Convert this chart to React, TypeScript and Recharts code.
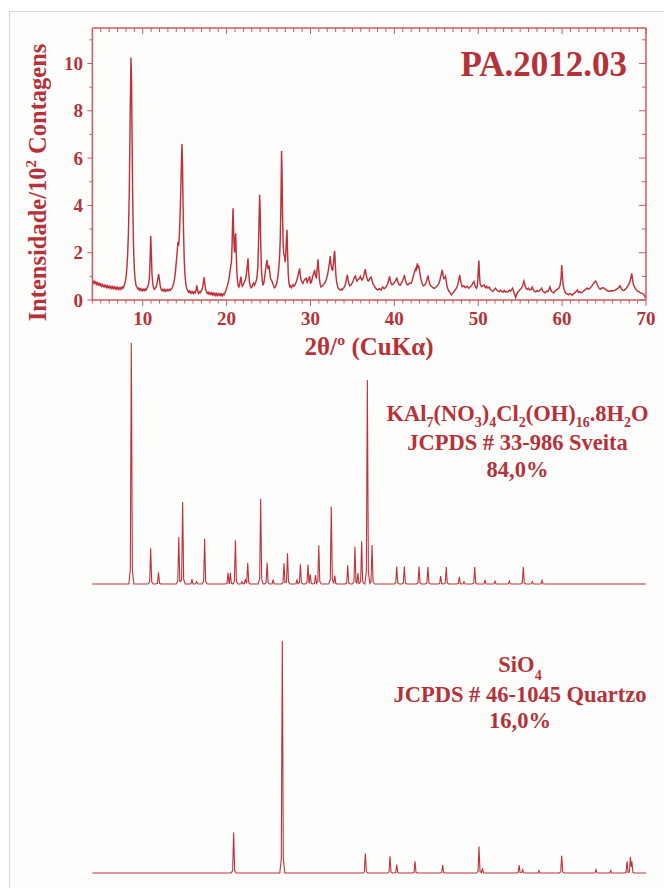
import React from 'react';
import { LineChart, Line, XAxis, YAxis } from 'recharts';

const TEXT = '#b5323a';
const LINE = '#bd323c';
const AXIS = '#cc5a63';
const FONT = "'Liberation Serif', 'Times New Roman', serif";

const xMajorTicks = [10, 20, 30, 40, 50, 60, 70];
const xAllTicks = Array.from({ length: 67 }, (_, i) => 4 + i);
const yMajorTicks = [0, 2, 4, 6, 8, 10];
const yAllTicks = [0, 1, 2, 3, 4, 5, 6, 7, 8, 9, 10, 11];

// measured pattern, 2θ vs intensity/10^2 counts
const scanA: number[][] = [[4.0,0.84],[4.1,0.72],[4.2,0.79],[4.3,0.7],[4.4,0.76],[4.5,0.66],[4.6,0.73],[4.7,0.64],[4.8,0.7],[4.9,0.62],[5.0,0.68],[5.1,0.58],[5.2,0.65],[5.3,0.57],[5.4,0.63],[5.5,0.55],[5.6,0.61],[5.7,0.53],[5.8,0.6],[5.9,0.52],[6.0,0.58],[6.1,0.5],[6.2,0.57],[6.3,0.49],[6.4,0.56],[6.5,0.48],[6.6,0.55],[6.7,0.47],[6.8,0.54],[6.9,0.46],[7.0,0.53],[7.1,0.46],[7.2,0.52],[7.3,0.45],[7.4,0.53],[7.5,0.47],[7.6,0.55],[7.7,0.52],[7.8,0.62],[7.9,0.74],[8.0,0.95],[8.1,1.3],[8.2,1.9],[8.3,2.9],[8.4,4.6],[8.5,7.8],[8.6,10.25],[8.67,9.2],[8.74,6.4],[8.82,3.9],[8.9,2.3],[9.0,1.3],[9.1,0.85],[9.2,0.62],[9.3,0.55],[9.4,0.47]];
const scanB: number[][] = [[9.5,0.5],[9.6,0.42],[9.7,0.48],[9.8,0.4],[9.9,0.46],[10.0,0.39],[10.1,0.45],[10.2,0.4],[10.3,0.47],[10.4,0.42],[10.5,0.5],[10.6,0.55],[10.7,0.68],[10.8,0.95],[10.88,1.7],[10.95,2.72],[11.02,2.1],[11.1,1.1],[11.2,0.68],[11.3,0.52],[11.4,0.45],[11.5,0.5],[11.6,0.55],[11.7,0.7],[11.8,0.88],[11.9,1.1],[12.0,0.82],[12.1,0.58],[12.2,0.45],[12.3,0.4],[12.4,0.45],[12.5,0.38],[12.6,0.44],[12.7,0.37],[12.8,0.43],[12.9,0.38],[13.0,0.44],[13.1,0.39],[13.2,0.45],[13.3,0.41],[13.4,0.48],[13.5,0.5],[13.6,0.6],[13.7,0.72],[13.8,0.9],[13.9,1.2],[14.0,1.6],[14.1,2.0],[14.2,2.45],[14.28,2.3],[14.36,2.7],[14.45,3.5],[14.55,4.8],[14.62,5.9],[14.68,6.6],[14.74,5.8],[14.8,4.2],[14.87,2.8],[14.95,1.7],[15.05,1.0],[15.15,0.65],[15.25,0.48],[15.35,0.4],[15.45,0.33],[15.55,0.38],[15.65,0.3],[15.75,0.36],[15.85,0.29],[15.95,0.35],[16.05,0.28],[16.15,0.34],[16.25,0.3],[16.35,0.4],[16.45,0.62],[16.55,0.4],[16.65,0.28],[16.75,0.34],[16.85,0.3],[16.95,0.38],[17.05,0.42],[17.15,0.55],[17.25,0.8],[17.32,0.96],[17.4,0.7],[17.5,0.45],[17.6,0.34],[17.7,0.28],[17.8,0.33],[17.9,0.25],[18.0,0.31],[18.1,0.24],[18.2,0.3],[18.3,0.22],[18.4,0.29],[18.5,0.21],[18.6,0.28],[18.7,0.2],[18.8,0.27],[18.9,0.19],[19.0,0.26],[19.1,0.2],[19.2,0.27],[19.3,0.19],[19.4,0.25],[19.5,0.18],[19.6,0.26],[19.7,0.22],[19.8,0.3],[19.9,0.38]];
const scanC: number[][] = [[20.0,0.5],[20.1,0.62],[20.2,0.75],[20.3,0.95],[20.4,1.2],[20.5,1.45],[20.58,1.6],[20.65,2.3],[20.71,3.2],[20.77,3.88],[20.83,3.0],[20.89,2.3],[20.95,2.0],[21.02,2.5],[21.08,2.82],[21.15,2.0],[21.22,1.2],[21.3,0.8],[21.38,0.6],[21.46,0.55],[21.55,0.65],[21.63,0.85],[21.71,0.99],[21.79,0.7],[21.87,0.58],[21.95,0.62],[22.05,0.7],[22.15,0.78],[22.25,0.88],[22.35,1.05],[22.45,1.4],[22.55,1.76],[22.63,1.2],[22.72,0.75],[22.82,0.6],[22.92,0.52],[23.02,0.55],[23.12,0.65],[23.22,0.72],[23.32,0.62],[23.42,0.7],[23.52,0.8],[23.62,0.95],[23.72,1.4],[23.8,2.3],[23.87,3.4],[23.94,4.45],[24.0,3.8],[24.07,2.4],[24.15,1.3],[24.25,0.8],[24.35,0.62],[24.45,0.75],[24.55,1.0],[24.65,1.3],[24.75,1.55],[24.82,1.7],[24.9,1.4],[24.98,1.3],[25.06,1.45],[25.14,1.2],[25.22,0.95],[25.3,0.85],[25.4,0.8],[25.5,0.7],[25.6,0.6],[25.7,0.52],[25.8,0.55],[25.9,0.62],[26.0,0.75],[26.1,0.95],[26.2,1.25],[26.3,1.7],[26.4,2.6],[26.48,4.2],[26.55,6.3],[26.61,5.4],[26.67,3.6],[26.74,2.4],[26.82,1.95],[26.9,1.85],[26.98,1.6],[27.05,1.9],[27.12,2.5],[27.2,2.97],[27.27,2.0],[27.35,1.1],[27.44,0.7],[27.52,0.56],[27.62,0.6],[27.72,0.52],[27.82,0.6],[27.92,0.65],[28.02,0.58],[28.12,0.62],[28.22,0.7],[28.32,0.78],[28.42,0.9],[28.52,1.05],[28.62,1.2],[28.71,1.34],[28.8,1.0],[28.9,0.82],[29.0,0.75],[29.1,0.7],[29.2,0.8],[29.3,0.86],[29.4,0.9],[29.5,0.92],[29.6,0.75],[29.7,0.82],[29.8,0.9],[29.9,1.0],[30.0,0.72]];
const scanD: number[][] = [[30.1,0.75],[30.2,0.9],[30.3,1.05],[30.4,1.15],[30.5,1.27],[30.6,1.0],[30.7,0.95],[30.8,1.3],[30.9,1.72],[30.98,1.3],[31.06,0.9],[31.15,0.68],[31.25,0.55],[31.35,0.58],[31.45,0.6],[31.55,0.65],[31.65,0.7],[31.75,0.75],[31.85,0.82],[31.95,0.95],[32.05,1.1],[32.15,1.3],[32.25,1.55],[32.36,1.86],[32.45,1.5],[32.55,1.3],[32.65,1.27],[32.75,1.6],[32.82,1.95],[32.88,2.08],[32.95,1.6],[33.02,1.1],[33.1,0.8],[33.2,0.62],[33.3,0.5],[33.4,0.46],[33.5,0.44],[33.6,0.42],[33.7,0.46],[33.8,0.43],[33.9,0.5],[34.0,0.52],[34.1,0.6],[34.2,0.72],[34.3,0.9],[34.39,1.06],[34.48,0.85],[34.58,0.7],[34.68,0.6],[34.78,0.62],[34.88,0.66],[34.98,0.72],[35.08,0.8],[35.18,0.9],[35.28,0.98],[35.36,1.02],[35.45,0.88],[35.55,0.8],[35.65,0.86],[35.75,0.88],[35.85,0.92],[35.95,1.0],[36.05,0.9],[36.15,0.84],[36.25,0.9],[36.35,1.0],[36.45,1.2],[36.54,1.3],[36.62,1.1],[36.72,0.95],[36.82,0.82],[36.92,0.8],[37.02,0.88],[37.12,0.92],[37.22,0.96],[37.32,0.85],[37.42,0.72],[37.52,0.64],[37.62,0.58],[37.72,0.52],[37.82,0.48],[37.92,0.45],[38.02,0.42],[38.12,0.46],[38.22,0.48],[38.32,0.44],[38.42,0.42],[38.52,0.5],[38.62,0.55],[38.72,0.5],[38.82,0.48],[38.92,0.52],[39.02,0.56],[39.12,0.62],[39.22,0.7],[39.32,0.85],[39.42,1.0],[39.52,0.82],[39.62,0.7],[39.72,0.64],[39.82,0.66],[39.92,0.7]];
const scanE: number[][] = [[40.02,0.75],[40.12,0.8],[40.22,0.88],[40.31,0.92],[40.4,0.78],[40.5,0.7],[40.6,0.64],[40.7,0.62],[40.8,0.7],[40.9,0.76],[41.0,0.82],[41.1,0.92],[41.2,1.06],[41.3,0.88],[41.4,0.74],[41.5,0.65],[41.6,0.64],[41.7,0.68],[41.8,0.7],[41.9,0.72],[42.0,0.7],[42.1,0.8],[42.2,0.92],[42.3,1.05],[42.4,1.2],[42.5,1.3],[42.58,1.22],[42.66,1.4],[42.74,1.55],[42.82,1.38],[42.9,1.42],[42.98,1.3],[43.06,1.1],[43.16,0.9],[43.26,0.75],[43.36,0.65],[43.46,0.6],[43.56,0.62],[43.66,0.65],[43.76,0.72],[43.86,0.82],[43.94,0.95],[44.02,1.0],[44.1,0.85],[44.2,0.7],[44.3,0.62],[44.4,0.58],[44.5,0.55],[44.6,0.52],[44.7,0.5],[44.8,0.5],[44.9,0.53],[45.0,0.56],[45.1,0.6],[45.2,0.64],[45.3,0.7],[45.4,0.8],[45.5,0.95],[45.6,1.1],[45.71,1.27],[45.8,1.05],[45.9,0.9],[46.0,0.92],[46.1,1.0],[46.2,0.75],[46.3,0.55],[46.4,0.45],[46.5,0.38],[46.6,0.33],[46.7,0.28],[46.8,0.22],[46.9,0.26],[47.0,0.3],[47.1,0.35],[47.2,0.4],[47.3,0.45],[47.4,0.5],[47.5,0.58],[47.6,0.7],[47.7,0.88],[47.79,1.06],[47.88,0.85],[47.98,0.68],[48.08,0.56],[48.18,0.58],[48.28,0.6],[48.38,0.55],[48.48,0.52],[48.58,0.56],[48.68,0.58],[48.78,0.54],[48.88,0.5],[48.98,0.53],[49.08,0.56],[49.18,0.6],[49.28,0.66],[49.38,0.72],[49.48,0.78],[49.58,0.66],[49.68,0.55],[49.78,0.5],[49.88,0.58],[49.96,0.9],[50.02,1.4],[50.08,1.67],[50.14,1.1],[50.22,0.7],[50.32,0.6]];
const scanF: number[][] = [[50.42,0.56],[50.55,0.6],[50.7,0.64],[50.85,0.52],[51.0,0.58],[51.15,0.5],[51.3,0.55],[51.45,0.44],[51.6,0.4],[51.75,0.36],[51.9,0.44],[52.05,0.5],[52.2,0.42],[52.35,0.38],[52.5,0.35],[52.65,0.42],[52.8,0.36],[52.95,0.33],[53.1,0.4],[53.25,0.33],[53.4,0.36],[53.55,0.34],[53.7,0.42],[53.85,0.37],[54.0,0.45],[54.1,0.5],[54.25,0.32],[54.38,0.2],[54.46,0.1],[54.55,0.22],[54.7,0.32],[54.85,0.38],[55.0,0.44],[55.15,0.5],[55.3,0.62],[55.45,0.8],[55.58,0.6],[55.72,0.48],[55.86,0.45],[56.0,0.5],[56.15,0.42],[56.3,0.45],[56.44,0.55],[56.58,0.42],[56.72,0.36],[56.86,0.34],[57.0,0.4],[57.15,0.36],[57.3,0.38],[57.45,0.45],[57.55,0.5],[57.7,0.38],[57.85,0.33],[58.0,0.3],[58.15,0.38],[58.3,0.36],[58.45,0.45],[58.55,0.55],[58.7,0.38],[58.85,0.33],[59.0,0.3],[59.15,0.38],[59.3,0.42],[59.45,0.46],[59.6,0.5],[59.75,0.62],[59.88,0.95],[59.95,1.48],[60.02,1.1],[60.1,0.7],[60.2,0.5],[60.32,0.36],[60.45,0.28],[60.6,0.26],[60.75,0.22],[60.9,0.28],[61.05,0.25],[61.21,0.2],[61.35,0.26],[61.5,0.3],[61.65,0.36],[61.81,0.42],[61.95,0.32],[62.1,0.35],[62.25,0.3],[62.4,0.32],[62.55,0.38],[62.7,0.42],[62.85,0.46],[63.0,0.5],[63.15,0.45],[63.3,0.5],[63.45,0.55],[63.6,0.62],[63.75,0.7],[63.88,0.76],[64.0,0.8],[64.12,0.72],[64.25,0.6],[64.4,0.5],[64.55,0.45],[64.7,0.5],[64.85,0.52],[64.99,0.5],[65.15,0.46],[65.3,0.42],[65.45,0.38],[65.6,0.36],[65.75,0.38],[65.9,0.4],[66.05,0.38],[66.18,0.4],[66.32,0.42],[66.46,0.45],[66.6,0.48],[66.75,0.52],[66.9,0.6],[67.05,0.48],[67.2,0.42],[67.35,0.4],[67.5,0.45],[67.65,0.5],[67.8,0.58],[67.95,0.66],[68.1,0.8],[68.2,0.95],[68.3,1.13],[68.4,0.85],[68.5,0.65],[68.62,0.55],[68.75,0.48],[68.9,0.4],[69.05,0.36],[69.2,0.34],[69.35,0.3],[69.5,0.28],[69.65,0.26],[69.8,0.2],[69.9,0.12],[70.0,0.14]];

// reference patterns: [2θ, relative intensity %]
const sveitaPeaks: number[][] = [[8.64,100],[10.95,14.8],[11.88,4.9],[14.3,19.5],[14.76,34],[15.87,2],[16.42,1],[17.38,18.8],[20.17,4.6],[20.45,4.6],[21.05,18.1],[21.83,1],[22.23,2],[22.52,8.8],[24.06,35.3],[24.83,8.8],[25.55,1.8],[26.84,8.6],[27.26,12.8],[28.39,1.7],[28.8,8.2],[29.7,8.1],[29.97,4],[30.6,3.7],[30.99,16.1],[32.48,32.2],[32.9,3.5],[34.44,7.8],[35.3,15.5],[35.65,4.5],[36.1,17.7],[36.78,84.6],[37.34,16.2],[40.28,7.2],[41.19,7.2],[42.94,7.2],[44.0,7],[45.52,3.3],[46.19,7],[47.74,3],[48.3,1],[49.58,7],[50.8,1.5],[52.0,1.2],[53.7,1.2],[55.37,7],[56.45,1],[57.6,1.5]];
const quartzPeaks: number[][] = [[20.84,17.4],[26.64,100],[36.54,8.4],[39.48,7.2],[40.28,3.6],[42.46,5],[45.76,3.4],[50.09,11.4],[50.5,2],[54.87,3.4],[55.3,1.5],[57.24,1],[59.95,7.5],[64.04,1.5],[65.79,1],[67.74,5],[68.14,7],[68.32,5]];

const measured = [...scanA, ...scanB, ...scanC, ...scanD, ...scanE, ...scanF].map(([t, i]) => ({ t, i }));

// table of line vertices for a stick pattern (narrow peak with a small foot)
function stickTable(peaks: number[][]) {
  const core = 0.12;
  const foot = 0.3;
  const xs = new Set<number>([4, 70]);
  peaks.forEach(([t]) => {
    [t - foot, t - core, t, t + core, t + foot].forEach((v) => xs.add(Math.round(v * 1000) / 1000));
  });
  const sorted = Array.from(xs).sort((a, b) => a - b);
  return sorted.map((x) => {
    let y = 0;
    peaks.forEach(([t, h]) => {
      const d = Math.abs(x - t);
      let v = 0;
      if (d <= core) v = h - (h * 0.94 * d) / core;
      else if (d <= foot) v = (h * 0.06 * (foot - d)) / (foot - core);
      if (v > y) y = v;
    });
    return { t: x, i: y };
  });
}

const sveitaData = stickTable(sveitaPeaks);
const quartzData = stickTable(quartzPeaks);

const txt = { fill: TEXT, fontFamily: FONT, fontWeight: 700 } as const;

const BottomTick = (p: any) => {
  const { x, y, payload } = p;
  const v = payload.value;
  const major = v % 10 === 0;
  return (
    <g>
      <line x1={x} x2={x} y1={y} y2={y + (major ? 6 : 3.5)} stroke={AXIS} strokeWidth={1} />
      {major && xMajorTicks.includes(v) ? (
        <text x={x} y={y + 25} textAnchor="middle" fontSize={19} {...txt}>{v}</text>
      ) : null}
    </g>
  );
};

const TopTick = (p: any) => {
  const { x, y, payload } = p;
  const major = payload.value % 10 === 0;
  return <line x1={x} x2={x} y1={y} y2={y + (major ? 6 : 4)} stroke={AXIS} strokeWidth={1} />;
};

const LeftTick = (p: any) => {
  const { x, y, payload } = p;
  const v = payload.value;
  const major = yMajorTicks.includes(v);
  return (
    <g>
      <line x1={x} x2={x - (major ? 5 : 3)} y1={y} y2={y} stroke={AXIS} strokeWidth={1} />
      {major ? (
        <text x={x - 9.5} y={y + 6.5} textAnchor="end" fontSize={19} {...txt}>{v}</text>
      ) : null}
    </g>
  );
};

const RightTick = (p: any) => {
  const { x, y, payload } = p;
  const major = yMajorTicks.includes(payload.value);
  return <line x1={x} x2={x - (major ? 7 : 4)} y1={y} y2={y} stroke={AXIS} strokeWidth={1} />;
};

const axisLine = { stroke: AXIS, strokeWidth: 1.5 };

export default function App() {
  return (
    <div style={{ position: 'absolute', left: 0, top: 0, width: 664, height: 888, background: '#ffffff', overflow: 'hidden' }}>
      <div style={{ position: 'absolute', left: 9, top: 11, width: 655, height: 877, borderLeft: '1px solid #d7d7d7', borderTop: '1px solid #d7d7d7', background: '#fdfdfb' }} />

      <div style={{ position: 'absolute', left: 0, top: 0 }}>
        <LineChart width={664} height={370} data={measured} margin={{ top: 18, right: 8, bottom: 30, left: 32.4 }}>
          <XAxis xAxisId="b" dataKey="t" type="number" domain={[4, 70]} ticks={xAllTicks} interval={0}
            tickSize={0} tickMargin={0} tickLine={false} axisLine={axisLine} tick={BottomTick} height={40} allowDataOverflow />
          <XAxis xAxisId="t" orientation="top" dataKey="t" type="number" domain={[4, 70]} ticks={xAllTicks} interval={0}
            tickSize={0} tickMargin={0} tickLine={false} axisLine={axisLine} tick={TopTick} height={10} allowDataOverflow />
          <YAxis yAxisId="l" type="number" domain={[0, 11.5]} ticks={yAllTicks} interval={0}
            tickSize={0} tickMargin={0} tickLine={false} axisLine={axisLine} tick={LeftTick} width={60} allowDataOverflow />
          <YAxis yAxisId="r" orientation="right" type="number" domain={[0, 11.5]} ticks={yAllTicks} interval={0}
            tickSize={0} tickMargin={0} tickLine={false} axisLine={axisLine} tick={RightTick} width={10} allowDataOverflow />
          <Line xAxisId="b" yAxisId="l" dataKey="i" type="linear" dot={false} stroke={LINE} strokeWidth={1.45} isAnimationActive={false} />
        </LineChart>
      </div>

      <div style={{ position: 'absolute', left: 0, top: 330 }}>
        <LineChart width={664} height={270} data={sveitaData} margin={{ top: 13, right: 18, bottom: 16, left: 92.4 }}>
          <XAxis dataKey="t" type="number" domain={[4, 70]} hide />
          <YAxis type="number" domain={[0, 100]} hide />
          <Line dataKey="i" type="linear" dot={false} stroke={LINE} strokeWidth={1.1} isAnimationActive={false} />
        </LineChart>
      </div>

      <div style={{ position: 'absolute', left: 0, top: 620 }}>
        <LineChart width={664} height={268} data={quartzData} margin={{ top: 21, right: 18, bottom: 15, left: 92.4 }}>
          <XAxis dataKey="t" type="number" domain={[4, 70]} hide />
          <YAxis type="number" domain={[0, 100]} hide />
          <Line dataKey="i" type="linear" dot={false} stroke={LINE} strokeWidth={1.1} isAnimationActive={false} />
        </LineChart>
      </div>

      <svg width={664} height={888} style={{ position: 'absolute', left: 0, top: 0, pointerEvents: 'none' }}>
        <text x={627} y={76} textAnchor="end" fontSize={35} {...txt}>PA.2012.03</text>
        <text transform="translate(46,182.5) rotate(-90)" textAnchor="middle" fontSize={24.5} {...txt}>
          Intensidade/10<tspan fontSize={15} dy={-10}>2</tspan><tspan dy={10}> Contagens</tspan>
        </text>
        <text x={369} y={355} textAnchor="middle" fontSize={25} {...txt}>2θ/º (CuKα)</text>

        <text x={517.5} y={420.7} textAnchor="middle" fontSize={22.5} {...txt}>
          KAl<tspan fontSize={14} dy={6}>7</tspan><tspan dy={-6}>(NO</tspan><tspan fontSize={14} dy={6}>3</tspan><tspan dy={-6}>)</tspan><tspan fontSize={14} dy={6}>4</tspan><tspan dy={-6}>Cl</tspan><tspan fontSize={14} dy={6}>2</tspan><tspan dy={-6}>(OH)</tspan><tspan fontSize={14} dy={6}>16</tspan><tspan dy={-6}>.8H</tspan><tspan fontSize={14} dy={6}>2</tspan><tspan dy={-6}>O</tspan>
        </text>
        <text x={517.5} y={450} textAnchor="middle" fontSize={22.5} {...txt}>JCPDS # 33-986 Sveita</text>
        <text x={517.5} y={476.7} textAnchor="middle" fontSize={22.5} {...txt}>84,0%</text>

        <text x={520} y={671.7} textAnchor="middle" fontSize={22.5} {...txt}>
          SiO<tspan fontSize={14} dy={8}>4</tspan>
        </text>
        <text x={520} y={701.7} textAnchor="middle" fontSize={22.5} {...txt}>JCPDS # 46-1045 Quartzo</text>
        <text x={520} y={728.3} textAnchor="middle" fontSize={22.5} {...txt}>16,0%</text>
      </svg>
    </div>
  );
}
